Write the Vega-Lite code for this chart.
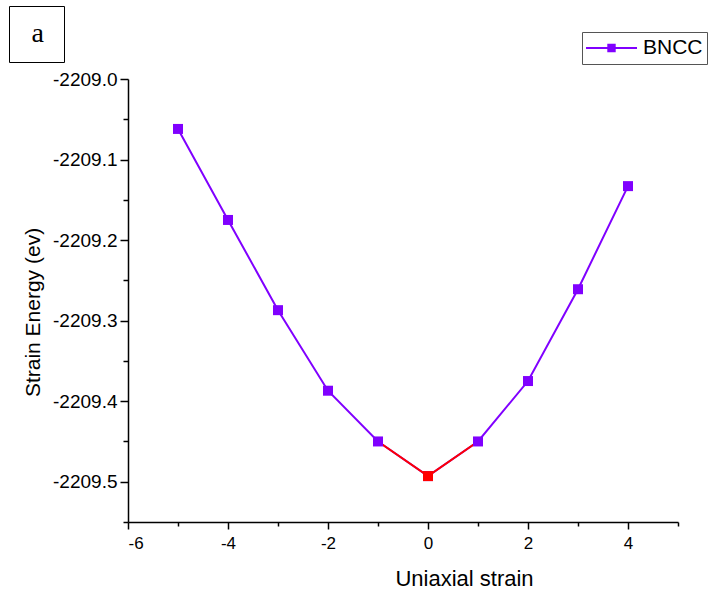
{
  "$schema": "https://vega.github.io/schema/vega-lite/v6.json",
  "width": 550,
  "height": 443,
  "autosize": {"type": "none"},
  "padding": {"left": 128, "top": 79, "right": 30, "bottom": 71},
  "background": "white",
  "config": {
    "view": {"stroke": null},
    "font": "Liberation Sans",
    "axis": {"grid": false, "domainColor": "black", "domainWidth": 1.5, "tickColor": "black", "tickWidth": 1.5, "labelColor": "black", "titleColor": "black", "labelFont": "Liberation Sans", "titleFont": "Liberation Sans", "titleFontWeight": "normal"}
  },
  "data": {
    "values": [
      {"x": -5, "y": -2209.062, "series": "BNCC"},
      {"x": -4, "y": -2209.175, "series": "BNCC"},
      {"x": -3, "y": -2209.287, "series": "BNCC"},
      {"x": -2, "y": -2209.387, "series": "BNCC"},
      {"x": -1, "y": -2209.450, "series": "BNCC"},
      {"x": 0, "y": -2209.493, "series": "BNCC"},
      {"x": 1, "y": -2209.450, "series": "BNCC"},
      {"x": 2, "y": -2209.375, "series": "BNCC"},
      {"x": 3, "y": -2209.261, "series": "BNCC"},
      {"x": 4, "y": -2209.133, "series": "BNCC"}
    ]
  },
  "encoding": {
    "x": {
      "field": "x", "type": "quantitative",
      "scale": {"domain": [-6, 5], "nice": false, "zero": false},
      "axis": {
        "title": "Uniaxial strain",
        "values": [-6, -5, -4, -3, -2, -1, 0, 1, 2, 3, 4, 5],
        "labelExpr": "datum.value % 2 === 0 ? replace(format(datum.value, 'd'), '\u2212', '-') : ''",
        "labelFontSize": 17,
        "labelPadding": 6,
        "tickSize": {"condition": {"test": "datum.value % 2 === 0", "value": 7}, "value": 4},
        "titleFontSize": 22,
        "titleX": 336,
        "titleY": 63,
        "titleBaseline": "alphabetic",
        "titleAlign": "center"
      }
    },
    "y": {
      "field": "y", "type": "quantitative",
      "scale": {"domain": [-2209.55, -2209.0], "nice": false, "zero": false},
      "axis": {
        "title": "Strain Energy (ev)",
        "values": [-2209.55, -2209.5, -2209.45, -2209.4, -2209.35, -2209.3, -2209.25, -2209.2, -2209.15, -2209.1, -2209.05, -2209.0],
        "labelExpr": "abs(datum.value * 10 - round(datum.value * 10)) < 0.01 ? replace(format(datum.value, '.1f'), '\u2212', '-') : ''",
        "labelFontSize": 19,
        "labelPadding": 3,
        "tickSize": {"condition": {"test": "abs(datum.value * 10 - round(datum.value * 10)) < 0.01", "value": 8}, "value": 5},
        "titleFontSize": 21,
        "titleAngle": 270,
        "titleX": -89,
        "titleY": 233,
        "titleBaseline": "alphabetic",
        "titleAlign": "center"
      }
    }
  },
  "layer": [
    {
      "mark": {"type": "line", "strokeWidth": 2, "color": "#8000ff"},
      "encoding": {}
    },
    {
      "transform": [{"filter": "datum.x >= -1 && datum.x <= 1"}],
      "mark": {"type": "line", "strokeWidth": 2, "color": "#ff0000"},
      "encoding": {}
    },
    {
      "mark": {"type": "point", "filled": true, "size": 100, "opacity": 1},
      "encoding": {
        "color": {
          "field": "series", "type": "nominal",
          "scale": {"range": ["#8000ff"]},
          "legend": {
            "title": null,
            "orient": "none",
            "legendX": 454,
            "legendY": -47,
            "padding": 4,
            "strokeColor": "#555555",
            "fillColor": "white",
            "clipHeight": 24,
            "symbolType": "M-1,-0.04L1,-0.04L1,0.04L-1,0.04Z M-0.165,-0.165L0.165,-0.165L0.165,0.165L-0.165,0.165Z",
            "symbolSize": 2601,
            "symbolStrokeWidth": 0,
            "symbolFillColor": "#8000ff",
            "symbolOpacity": 1,
            "labelFont": "Liberation Sans",
            "labelFontSize": 21,
            "labelColor": "black",
            "labelOffset": 6
          }
        },
        "shape": {
          "datum": "a",
          "scale": {"range": ["square"]},
          "legend": {
            "title": null,
            "orient": "none",
            "legendX": -119,
            "legendY": -73,
            "padding": 14,
            "strokeColor": "black",
            "fillColor": "white",
            "symbolSize": 676,
            "symbolOpacity": 0,
            "symbolStrokeWidth": 0,
            "labelFont": "Liberation Serif",
            "labelFontSize": 28,
            "labelColor": "black",
            "labelAlign": "right",
            "labelOffset": -7
          }
        }
      }
    },
    {
      "transform": [{"filter": "datum.x === 0"}],
      "mark": {"type": "point", "filled": true, "size": 100, "opacity": 1, "shape": "square", "color": "#ff0000"},
      "encoding": {}
    }
  ]
}
